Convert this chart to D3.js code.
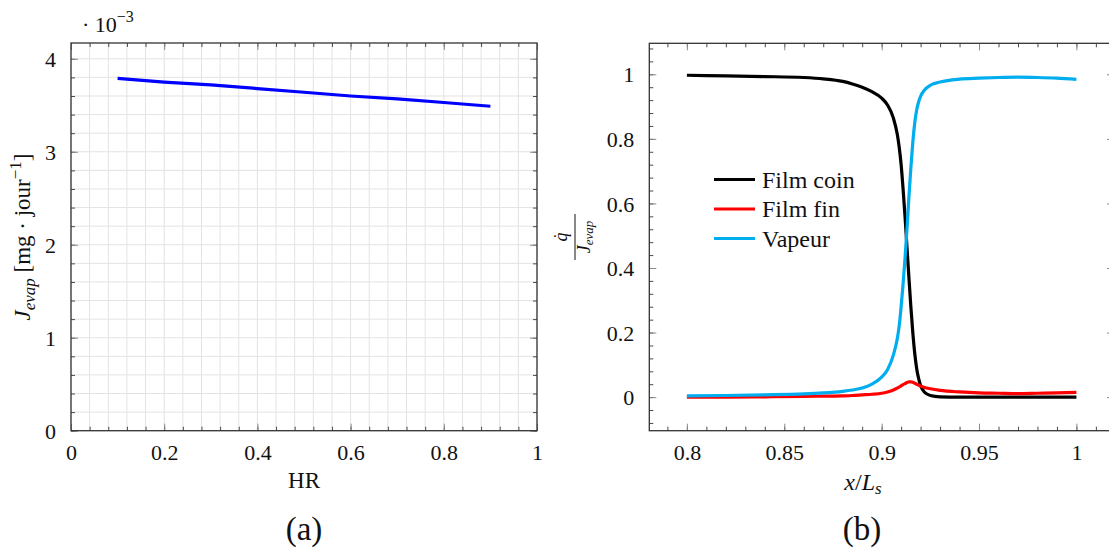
<!DOCTYPE html>
<html>
<head>
<meta charset="utf-8">
<script src="https://cdn.jsdelivr.net/npm/d3@7"></script>
</head>
<body style="margin:0">
<svg id="chart" width="1109" height="550"></svg>
<script>
// ---------- Data: panel (a) ----------
const hrValues = [0.1, 0.2, 0.3, 0.4, 0.5, 0.6, 0.7, 0.8, 0.9];
const jevapValues = [3.79, 3.75, 3.72, 3.68, 3.64, 3.60, 3.57, 3.53, 3.49]; // x 1e-3
const aXTicks = [0, 0.2, 0.4, 0.6, 0.8, 1];
const aYTicks = [0, 1, 2, 3, 4];

// ---------- Data: panel (b) ----------
const xPos = [0.80, 0.82, 0.84, 0.86, 0.87, 0.88, 0.885, 0.89, 0.895, 0.90, 0.903, 0.906, 0.908, 0.909, 0.910, 0.911, 0.912, 0.913, 0.914, 0.915, 0.916, 0.917, 0.918, 0.919, 0.920, 0.922, 0.925, 0.93, 0.94, 0.95, 0.96, 0.97, 0.98, 0.99, 1.00];
const filmCoin = [0.997, 0.995, 0.993, 0.990, 0.986, 0.978, 0.970, 0.960, 0.946, 0.926, 0.905, 0.865, 0.815, 0.775, 0.72, 0.645, 0.56, 0.465, 0.37, 0.28, 0.20, 0.135, 0.088, 0.057, 0.036, 0.015, 0.005, 0.001, 0, 0, 0, 0, 0, 0, 0];
const filmFin = [0.000, 0.000, 0.001, 0.002, 0.003, 0.004, 0.005, 0.007, 0.009, 0.012, 0.016, 0.022, 0.028, 0.031, 0.035, 0.039, 0.042, 0.045, 0.047, 0.047, 0.046, 0.043, 0.040, 0.037, 0.034, 0.030, 0.026, 0.021, 0.016, 0.013, 0.012, 0.011, 0.012, 0.013, 0.015];
const vapeur = [0.004, 0.005, 0.007, 0.010, 0.013, 0.018, 0.022, 0.028, 0.040, 0.062, 0.085, 0.13, 0.18, 0.22, 0.28, 0.35, 0.43, 0.52, 0.62, 0.71, 0.79, 0.85, 0.89, 0.915, 0.932, 0.951, 0.966, 0.976, 0.985, 0.988, 0.990, 0.991, 0.990, 0.988, 0.984];
const seriesNames = ["Film coin", "Film fin", "Vapeur"];
const seriesColors = ["#000000", "#ff0000", "#00aeef"];
const bXTicks = [0.8, 0.85, 0.9, 0.95, 1];
const bYTicks = [0, 0.2, 0.4, 0.6, 0.8, 1];

const FONT = '"Liberation Serif"';
const TXT = "#111";
const svg = d3.select("#chart");
const fmt = d => String(+d.toFixed(3));

function range(a, b, step) {
  const out = [];
  const n = Math.round((b - a) / step);
  for (let i = 0; i <= n; i++) out.push(+(a + i * step).toFixed(6));
  return out;
}

function addText(parent) {
  return parent.append("text").style("font-family", FONT).attr("fill", TXT);
}

function frameAxes(g, x, y, xMaj, xMin, yMaj, yMin, L, R, T, B) {
  const majCol = "#8a8a8a", minCol = "#4a4a4a";
  function styleAx(sel, col) {
    sel.attr("font-family", null).attr("font-size", null);
    sel.select(".domain").remove();
    sel.selectAll(".tick line").attr("stroke", col).attr("stroke-width", 1);
  }
  const bMin = g.append("g").attr("transform", `translate(0,${B})`).call(d3.axisBottom(x).tickValues(xMin).tickSize(-4).tickFormat(""));
  styleAx(bMin, minCol);
  const bMaj = g.append("g").attr("transform", `translate(0,${B})`).call(d3.axisBottom(x).tickValues(xMaj).tickSizeInner(-7).tickSizeOuter(0).tickPadding(14).tickFormat(fmt));
  styleAx(bMaj, majCol);
  bMaj.selectAll("text").style("font-family", FONT).style("font-size", "22px").attr("fill", TXT).attr("dy", "0.71em");
  const tMin = g.append("g").attr("transform", `translate(0,${T})`).call(d3.axisTop(x).tickValues(xMin).tickSize(-4).tickFormat(""));
  styleAx(tMin, minCol);
  const tMaj = g.append("g").attr("transform", `translate(0,${T})`).call(d3.axisTop(x).tickValues(xMaj).tickSize(-7).tickFormat(""));
  styleAx(tMaj, majCol);
  const lMin = g.append("g").attr("transform", `translate(${L},0)`).call(d3.axisLeft(y).tickValues(yMin).tickSize(-4).tickFormat(""));
  styleAx(lMin, minCol);
  const lMaj = g.append("g").attr("transform", `translate(${L},0)`).call(d3.axisLeft(y).tickValues(yMaj).tickSizeInner(-7).tickSizeOuter(0).tickPadding(15).tickFormat(fmt));
  styleAx(lMaj, majCol);
  lMaj.selectAll("text").style("font-family", FONT).style("font-size", "22px").attr("fill", TXT).attr("dy", "0.35em");
  const rMin = g.append("g").attr("transform", `translate(${R},0)`).call(d3.axisRight(y).tickValues(yMin).tickSize(-4).tickFormat(""));
  styleAx(rMin, minCol);
  const rMaj = g.append("g").attr("transform", `translate(${R},0)`).call(d3.axisRight(y).tickValues(yMaj).tickSize(-7).tickFormat(""));
  styleAx(rMaj, majCol);
  g.append("rect").attr("x", L).attr("y", T).attr("width", R - L).attr("height", B - T)
    .attr("fill", "none").attr("stroke", "#333").attr("stroke-width", 1.3);
}

// ================= Panel (a) =================
{
  const L = 71, R = 537, T = 43, B = 430.7;
  const x = d3.scaleLinear().domain([0, 1]).range([L, R]);
  const y = d3.scaleLinear().domain([0, 4.17]).range([B, T]);
  const g = svg.append("g");
  const xMin = range(0, 1, 0.04);
  const yMin = range(0, 4.0, 0.2);
  g.append("g").selectAll("line").data(xMin).join("line")
    .attr("x1", d => x(d)).attr("x2", d => x(d)).attr("y1", T).attr("y2", B)
    .attr("stroke", "#e3e3e3").attr("stroke-width", 1);
  g.append("g").selectAll("line").data(yMin).join("line")
    .attr("x1", L).attr("x2", R).attr("y1", d => y(d)).attr("y2", d => y(d))
    .attr("stroke", "#e3e3e3").attr("stroke-width", 1);
  frameAxes(g, x, y, aXTicks, xMin, aYTicks, yMin, L, R, T, B);
  const pts = hrValues.map((h, i) => [h, jevapValues[i]]);
  g.append("path").datum(pts)
    .attr("d", d3.line().x(d => x(d[0])).y(d => y(d[1])))
    .attr("fill", "none").attr("stroke", "#0000ff").attr("stroke-width", 3.2);
  const m = addText(svg).attr("x", 82).attr("y", 32).style("font-size", "22px");
  m.append("tspan").text("· 10");
  m.append("tspan").attr("dy", -10).style("font-size", "16px").text("−3");
  const yl = addText(svg).attr("transform", "translate(30,237) rotate(-90)")
    .attr("text-anchor", "middle").style("font-size", "23px");
  yl.append("tspan").style("font-style", "italic").text("J");
  yl.append("tspan").style("font-style", "italic").style("font-size", "17px").attr("dy", 5).text("evap");
  yl.append("tspan").attr("dy", -5).text(" [mg · jour");
  yl.append("tspan").style("font-size", "17px").attr("dy", -9).text("−1");
  yl.append("tspan").attr("dy", 9).text("]");
  addText(svg).attr("x", 304).attr("y", 488).attr("text-anchor", "middle").style("font-size", "23px").text("HR");
  addText(svg).attr("x", 304).attr("y", 540).attr("text-anchor", "middle").style("font-size", "33px").text("(a)");
}

// ================= Panel (b) =================
{
  const L = 649.3, R = 1114, T = 43.3, B = 430.7;
  const x = d3.scaleLinear().domain([0.7807, 1.0193]).range([L, R]);
  const y = d3.scaleLinear().domain([-0.104, 1.096]).range([B, T]);
  const g = svg.append("g");
  const xMin = range(0.79, 1.01, 0.01);
  const yMin = range(-0.08, 1.08, 0.04);
  frameAxes(g, x, y, bXTicks, xMin, bYTicks, yMin, L, R, T, B);
  const all = [filmCoin, filmFin, vapeur];
  const line = d3.line().x(d => x(d[0])).y(d => y(d[1])).curve(d3.curveMonotoneX);
  all.forEach((vals, k) => {
    g.append("path").datum(xPos.map((xv, i) => [xv, vals[i]]))
      .attr("d", line).attr("fill", "none").attr("stroke", seriesColors[k])
      .attr("stroke-width", 3.2).attr("stroke-linejoin", "round");
  });
  const lg = svg.append("g");
  seriesNames.forEach((n, k) => {
    const yy = 179.5 + k * 29.5;
    lg.append("line").attr("x1", 714).attr("x2", 755).attr("y1", yy).attr("y2", yy)
      .attr("stroke", seriesColors[k]).attr("stroke-width", 3.2);
    addText(lg).attr("x", 762).attr("y", yy).attr("dy", "0.35em").style("font-size", "24px").text(n);
  });
  const fl = svg.append("g").attr("transform", "translate(575,237) rotate(-90)");
  addText(fl).attr("x", 0).attr("y", -8).attr("text-anchor", "middle").style("font-size", "18px")
    .style("font-style", "italic").text("q\u0307");
  fl.append("line").attr("x1", -23).attr("x2", 23).attr("y1", 0).attr("y2", 0).attr("stroke", TXT).attr("stroke-width", 1);
  const den = addText(fl).attr("x", 0).attr("y", 15).attr("text-anchor", "middle").style("font-size", "18px").style("font-style", "italic");
  den.append("tspan").text("J");
  den.append("tspan").style("font-size", "13px").attr("dy", 3).text("evap");
  const xl = addText(svg).attr("x", 863).attr("y", 490).attr("text-anchor", "middle").style("font-size", "24px");
  xl.append("tspan").style("font-style", "italic").text("x");
  xl.append("tspan").text("/");
  xl.append("tspan").style("font-style", "italic").text("L");
  xl.append("tspan").style("font-style", "italic").style("font-size", "17px").attr("dy", 4).text("s");
  addText(svg).attr("x", 862).attr("y", 540).attr("text-anchor", "middle").style("font-size", "33px").text("(b)");
}
</script>
</body>
</html>
